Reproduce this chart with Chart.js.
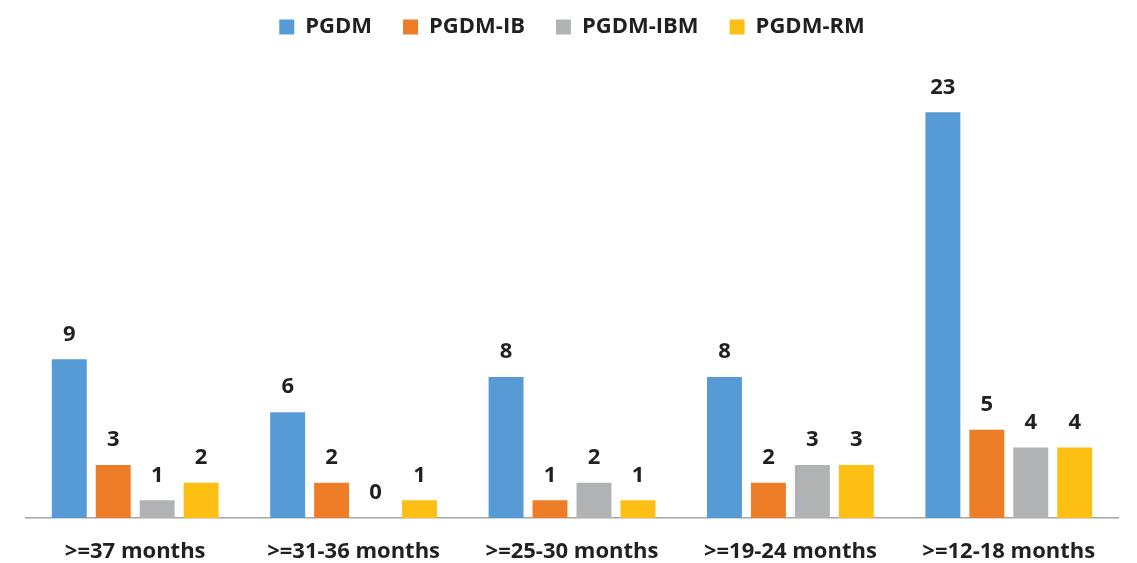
<!DOCTYPE html>
<html lang="en">
<head>
  <meta charset="UTF-8" />
  <title>Placement Duration by Programme</title>
  <script src="https://cdn.jsdelivr.net/npm/chart.js"></script>
  <style>
    html, body { margin: 0; padding: 0; background: #ffffff; }
    #wrap { width: 1137px; height: 563px; }
  </style>
</head>
<body>
  <div id="wrap"><canvas id="durationChart" width="1137" height="563"></canvas></div>

  <script>
    const categories = [">=37 months", ">=31-36 months", ">=25-30 months", ">=19-24 months", ">=12-18 months"];
    const pgdm    = [9, 6, 8, 8, 23];
    const pgdmIB  = [3, 2, 1, 2, 5];
    const pgdmIBM = [1, 0, 2, 3, 4];
    const pgdmRM  = [2, 1, 1, 3, 4];

    const FONT = '"Open Sans", "DejaVu Sans", sans-serif';
    const TEXT = '#231F20';

    // numbers above each bar
    const valueLabels = {
      id: 'valueLabels',
      afterDatasetsDraw(chart) {
        const ctx = chart.ctx;
        ctx.save();
        ctx.font = 'bold 22px ' + FONT;
        ctx.fillStyle = TEXT;
        ctx.textAlign = 'center';
        ctx.textBaseline = 'middle';
        chart.data.datasets.forEach((ds, i) => {
          chart.getDatasetMeta(i).data.forEach((bar, j) => {
            ctx.fillText(ds.data[j], bar.x, bar.y - 25);
          });
        });
        ctx.restore();
      }
    };

    // give the legend a fixed block so the plot starts lower
    const legendSpace = {
      id: 'legendSpace',
      beforeInit(chart) {
        const fit = chart.legend.fit;
        chart.legend.fit = function () {
          fit.bind(chart.legend)();
          this.height = 92;
        };
      }
    };

    new Chart(document.getElementById('durationChart'), {
      type: 'bar',
      data: {
        labels: categories,
        datasets: [
          { label: 'PGDM',     data: pgdm,    backgroundColor: '#569AD6' },
          { label: 'PGDM-IB',  data: pgdmIB,  backgroundColor: '#EE7D27' },
          { label: 'PGDM-IBM', data: pgdmIBM, backgroundColor: '#B1B2B4' },
          { label: 'PGDM-RM',  data: pgdmRM,  backgroundColor: '#FDBF14' }
        ]
      },
      options: {
        responsive: false,
        animation: false,
        categoryPercentage: 0.805,
        barPercentage: 0.795,
        layout: { padding: { top: -15, left: 26, right: 19, bottom: -23 } },
        plugins: {
          tooltip: { enabled: false },
          legend: {
            position: 'top',
            labels: {
              boxWidth: 15,
              boxHeight: 15,
              padding: 31,
              color: TEXT,
              font: { family: FONT, size: 22, weight: 'bold' }
            }
          }
        },
        scales: {
          x: {
            grid: { display: false, drawTicks: false },
            border: { display: true, color: '#A6A6A6', width: 1.5 },
            ticks: {
              color: TEXT,
              padding: 23,
              font: { family: FONT, size: 22, weight: 'bold', lineHeight: 1 }
            }
          },
          y: {
            display: false,
            min: 0,
            max: 25
          }
        }
      },
      plugins: [valueLabels, legendSpace]
    });
  </script>
</body>
</html>
